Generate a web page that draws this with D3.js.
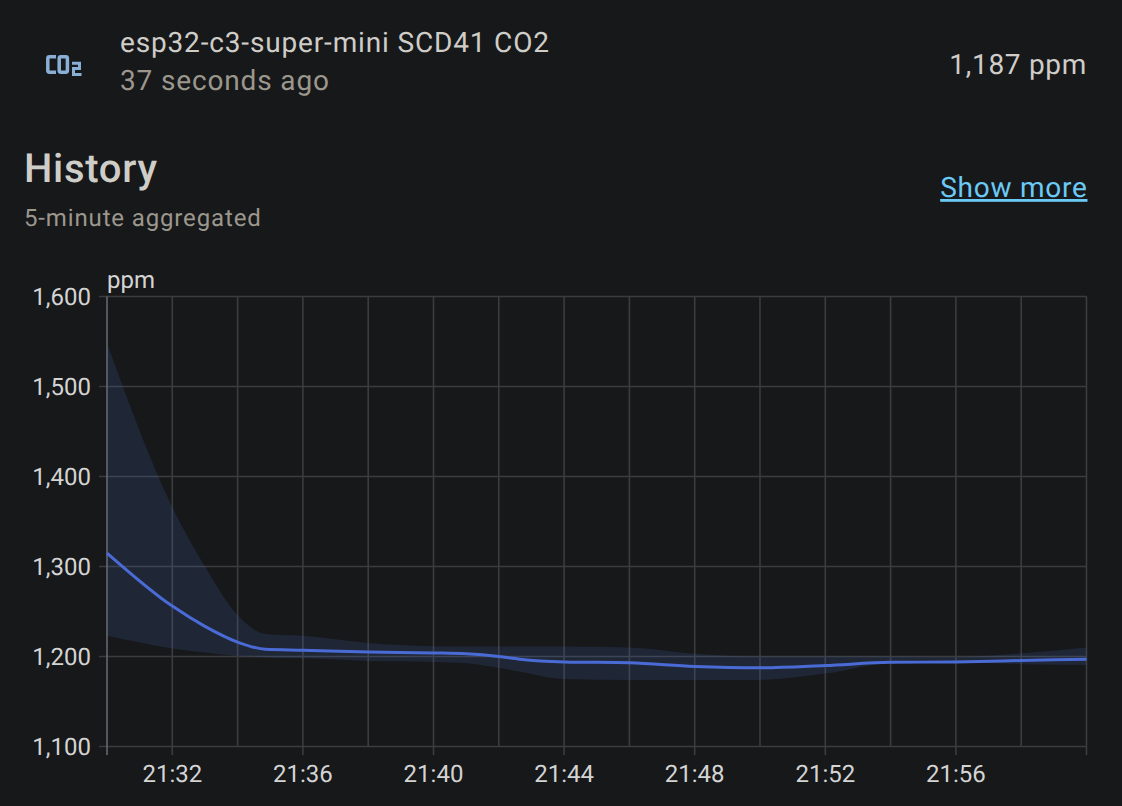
<!DOCTYPE html>
<meta charset="utf-8">
<style>
  html, body { margin: 0; background: #17181a; }
  text { font-family: Roboto, sans-serif; text-rendering: geometricPrecision; }
</style>
<body>
<script src="https://d3js.org/d3.v7.min.js"></script>
<script>

// statistics, at the minutes after 21:30 listed here
var minutes = [0, 2, 3, 4, 4.85, 6, 8, 10, 11, 12, 12.65, 14, 16, 18, 20, 22, 24, 26, 28, 30];
var meanVals = [1315, 1256, 1233.5, 1216, 1208, 1207, 1205, 1204, 1203, 1200, 1197, 1194, 1193, 1189, 1187.5, 1190, 1193.5, 1194, 1195.5, 1197];
var maxVals = [1548, 1366, 1300, 1246, 1225, 1223, 1215, 1211.5, 1211, 1211, 1211, 1211, 1210, 1203, 1200, 1200, 1200, 1199.5, 1203.5, 1210];
var minVals = [1223, 1209, 1204.4, 1200.5, 1199, 1198, 1195, 1194, 1192.5, 1187.5, 1183, 1175, 1174, 1174, 1174, 1181, 1192.5, 1193.5, 1191.5, 1190.5];

var yTicks = [1100, 1200, 1300, 1400, 1500, 1600];
var xGrid = d3.range(0, 31, 2);
var xLabels = [2, 6, 10, 14, 18, 22, 26];

var svg = d3.select("body").append("svg")
    .attr("width", 1122)
    .attr("height", 806)
    .style("display", "block");

// header texts
function label(x, y, str, size, fill, anchor, spacing, weight) {
  return svg.append("text")
      .attr("x", x)
      .attr("y", y)
      .attr("font-size", size)
      .attr("fill", fill)
      .attr("text-anchor", anchor || "start")
      .attr("letter-spacing", spacing || 0)
      .attr("font-weight", weight || 400)
      .text(str);
}

label(120, 52, "esp32-c3-super-mini SCD41 CO2", 28, "#cfcdc8", "start", 0.84);
label(120, 90, "37 seconds ago", 28, "#9c978d", "start", 0.85);
label(1087, 74, "1,187 ppm", 28, "#cfcdc8", "end", 0.7);
label(24, 182, "History", 40, "#cfcdc8", "start", 0.7, 500);
label(24, 226, "5-minute aggregated", 24, "#9c978d", "start", 0.86);
label(1087.5, 197, "Show more", 28, "#6bcaf5", "end", 0.75)
    .attr("text-decoration", "underline");

// CO2 icon
var icon = svg.append("g")
    .attr("fill", "none")
    .attr("stroke", "#8aafd6")
    .attr("stroke-width", 3.5);
icon.append("path").attr("d", "M56,56.8h-6.5a1.7,1.7 0 0 0 -1.7,1.7v12a1.7,1.7 0 0 0 1.7,1.7h6.5");
icon.append("rect").attr("x", 59.2).attr("y", 56.8).attr("width", 8.2).attr("height", 15.4).attr("rx", 1.7);
icon.append("path").attr("stroke-width", 3)
    .attr("d", "M72,63.2h7.5v5.3h-6v6h8");

// scales
var x = d3.scaleLinear().domain([0, 30]).range([107, 1086.5]);
var y = d3.scaleLinear().domain([1100, 1600]).range([746.5, 296.5]);

// grid
svg.append("g").selectAll("line")
    .data(yTicks)
  .enter().append("line")
    .attr("x1", 99)
    .attr("x2", x(30))
    .attr("y1", function(d) { return y(d); })
    .attr("y2", function(d) { return y(d); })
    .attr("stroke", "#3b3c3e")
    .attr("stroke-width", 1.6);

svg.append("g").selectAll("line")
    .data(xGrid)
  .enter().append("line")
    .attr("x1", function(d) { return x(d); })
    .attr("x2", function(d) { return x(d); })
    .attr("y1", y(1600))
    .attr("y2", function(d) { return (d + 2) % 4 == 0 || d == 0 ? 755 : y(1100); })
    .attr("stroke", function(d) { return d == 0 ? "#66686c" : "#3b3c3e"; })
    .attr("stroke-width", 1.6);

// band between min and max
var band = d3.area()
    .x(function(d) { return x(d); })
    .y0(function(d, i) { return y(minVals[i]); })
    .y1(function(d, i) { return y(maxVals[i]); })
    .curve(d3.curveMonotoneX);

svg.append("path")
    .attr("d", band(minutes))
    .attr("fill", "#4a70d0")
    .attr("fill-opacity", 0.16);

var line = d3.line()
    .x(function(d) { return x(d); })
    .y(function(d, i) { return y(meanVals[i]); })
    .curve(d3.curveMonotoneX);

svg.append("path")
    .attr("d", line(minutes))
    .attr("fill", "none")
    .attr("stroke", "#4a6bd6")
    .attr("stroke-width", 3);

// tick labels
svg.append("g").selectAll("text")
    .data(yTicks)
  .enter().append("text")
    .attr("x", 91)
    .attr("y", function(d) { return y(d) + 8.5; })
    .attr("text-anchor", "end")
    .attr("font-size", 24)
    .attr("fill", "#d4d4d4")
    .text(d3.format(","));

svg.append("g").selectAll("text")
    .data(xLabels)
  .enter().append("text")
    .attr("x", function(d) { return x(d); })
    .attr("y", 782)
    .attr("text-anchor", "middle")
    .attr("font-size", 24)
    .attr("fill", "#d4d4d4")
    .text(function(d) { return "21:" + (30 + d); });

label(107, 288, "ppm", 24, "#d4d4d4");

</script>
